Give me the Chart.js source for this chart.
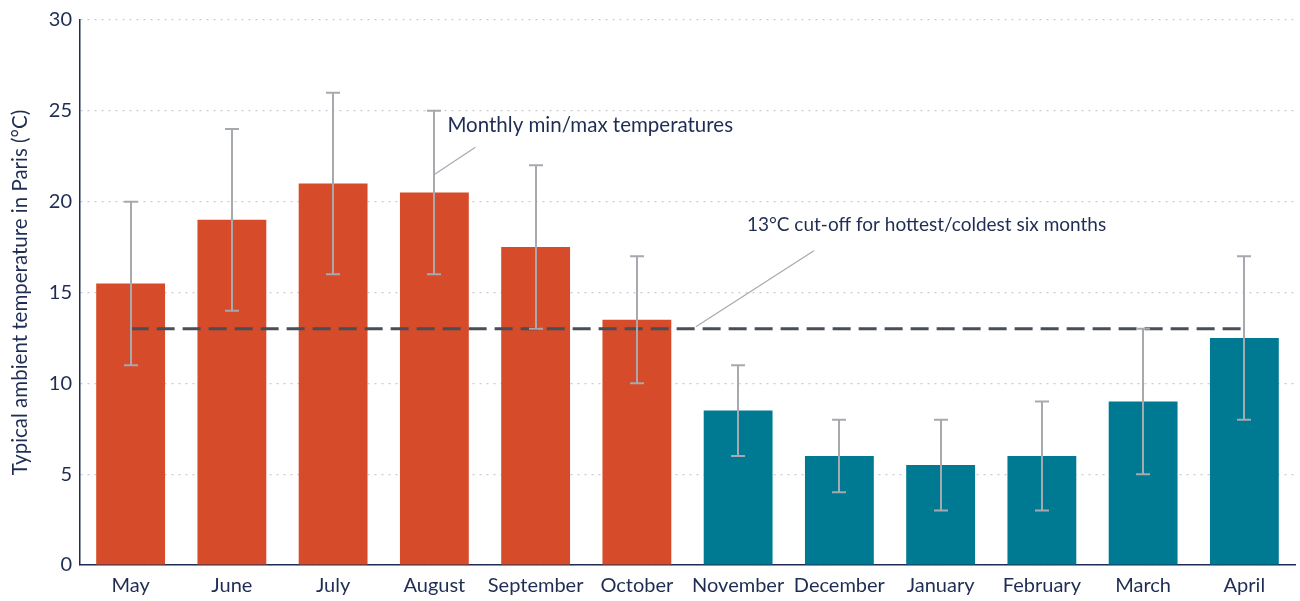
<!DOCTYPE html>
<html><head><meta charset="utf-8">
<script src="https://cdn.jsdelivr.net/npm/chart.js@4/dist/chart.umd.min.js"></script>
<style>html,body{margin:0;padding:0;background:#fff}#wrap{width:1300px;height:601px}</style>
</head><body><div id="wrap"><canvas id="c"></canvas></div>
<script>
const months = ["May","June","July","August","September","October","November","December","January","February","March","April"];
const avgTemps = [15.5,19,21,20.5,17.5,13.5,8.5,6,5.5,6,9,12.5];
const minTemps = [11,14,16,16,13,10,6,4,3,3,5,8];
const maxTemps = [20,24,26,25,22,17,11,8,8,9,13,17];
const cutoff = 13;
const hotMonths = ["May","June","July","August","September","October"];
const yTicks = [0,5,10,15,20,25,30];

const ORANGE = "#d64b2a", TEAL = "#007a93", NAVY = "#1f2d54", GREY = "#a6a9ad";

const errorBars = {
  id: "errorBars",
  afterDatasetsDraw(chart) {
    const {ctx, scales:{x,y}} = chart;
    const meta = chart.getDatasetMeta(1);
    ctx.save();
    ctx.strokeStyle = GREY; ctx.lineWidth = 2;
    meta.data.forEach((bar, i) => {
      const cx = Math.round(bar.x);
      const yMin = y.getPixelForValue(minTemps[i]), yMax = y.getPixelForValue(maxTemps[i]);
      ctx.beginPath();
      ctx.moveTo(cx, yMin); ctx.lineTo(cx, yMax);
      ctx.moveTo(cx-7, yMin); ctx.lineTo(cx+7, yMin);
      ctx.moveTo(cx-7, yMax); ctx.lineTo(cx+7, yMax);
      ctx.stroke();
    });
    ctx.restore();
  }
};

const annotations = {
  id: "annotations",
  afterDraw(chart) {
    const {ctx, scales:{x,y}} = chart;
    ctx.save();
    ctx.fillStyle = NAVY;
    ctx.textBaseline = "middle";
    ctx.strokeStyle = GREY; ctx.lineWidth = 1.2;
    // min/max label (August)
    const ax = x.getPixelForValue(3);
    ctx.beginPath();
    ctx.moveTo(ax, y.getPixelForValue(21.5));
    ctx.lineTo(ax+41, y.getPixelForValue(23));
    ctx.stroke();
    ctx.font = "20.5px Lato";
    ctx.fillText("Monthly min/max temperatures", ax+13, y.getPixelForValue(24.2));
    // cutoff label
    const ox = x.getPixelForValue(5);
    ctx.beginPath();
    ctx.moveTo(ox+59, y.getPixelForValue(cutoff)-2);
    ctx.lineTo(ox+177, y.getPixelForValue(17.3));
    ctx.stroke();
    ctx.font = "19px Lato";
    ctx.fillText("13°C cut-off for hottest/coldest six months", ox+110, y.getPixelForValue(18.7));
    ctx.restore();
  }
};

new Chart(document.getElementById("c"), {
  data: {
    labels: months,
    datasets: [
      {
        type: "line",
        data: months.map(() => cutoff),
        borderColor: "#474e57",
        borderWidth: 3,
        borderDash: [18, 8],
        pointRadius: 0,
        fill: false,
        order: 0
      },
      {
        type: "bar",
        data: avgTemps,
        backgroundColor: months.map(m => hotMonths.includes(m) ? ORANGE : TEAL),
        barPercentage: 0.68,
        categoryPercentage: 1.0,
        order: 1
      }
    ]
  },
  options: {
    responsive: true,
    maintainAspectRatio: false,
    animation: false,
    layout: { padding: { top: 18, right: 5, left: 0, bottom: 0 } },
    plugins: { legend: { display: false }, tooltip: { enabled: false } },
    scales: {
      x: {
        grid: { display: false, drawTicks: false },
        border: { display: true, color: NAVY, width: 1.5 },
        ticks: { color: NAVY, font: { family: "Lato", size: 20 }, padding: 9, maxRotation: 0, minRotation: 0, autoSkip: false },
        afterFit(s) { s.height = 36; }
      },
      y: {
        min: 0, max: 30,
        afterBuildTicks(s) { s.ticks = yTicks.map(v => ({ value: v })); },
        grid: { color: "#c9ccd0", lineWidth: 1.2, drawTicks: false },
        border: { display: true, color: NAVY, width: 1.5, dash: [2, 5] },
        ticks: { color: NAVY, font: { family: "Lato", size: 20 }, padding: 8 },
        title: { display: true, text: "Typical ambient temperature in Paris (°C)", color: NAVY, font: { family: "Lato", size: 20.5 }, padding: { top: 8, bottom: 0 } },
        afterFit(s) { s.width = 80; }
      }
    }
  },
  plugins: [errorBars, annotations]
});
</script></body></html>
